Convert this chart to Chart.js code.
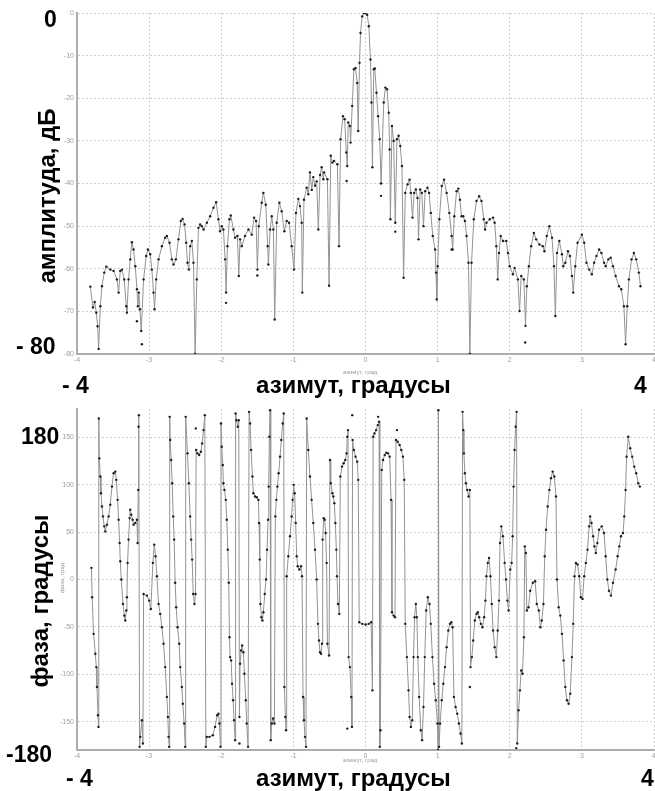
<!DOCTYPE html>
<html>
<head>
<meta charset="utf-8">
<script src="https://cdn.jsdelivr.net/npm/chart.js@4.4.1/dist/chart.umd.min.js"></script>
<style>
html, body { margin: 0; padding: 0; background: #fff; overflow: hidden; width: 655px; height: 791px; }
.box { position: absolute; left: 0; }
.big { position: absolute; font-family: "Liberation Sans", Arial, sans-serif; font-weight: bold; font-size: 23px; line-height: 1; color: #000; white-space: nowrap; }
.title { font-size: 24px; }
.rot { transform: translate(-50%, -50%) rotate(-90deg); }
.small { position: absolute; font-family: "Liberation Sans", Arial, sans-serif; font-size: 6px; line-height: 1; color: #999; white-space: nowrap; }
</style>
</head>
<body>

<div class="box" style="top:0;width:680px;height:390px"><canvas id="ampChart" width="680" height="390"></canvas></div>
<div class="box" style="top:390px;width:680px;height:401px"><canvas id="phaseChart" width="680" height="401"></canvas></div>

<div class="big" style="left:44px;top:8px">0</div>
<div class="big" style="left:16px;top:335px">- 80</div>
<div class="big" style="left:62px;top:374px">- 4</div>
<div class="big title" style="left:256px;top:373px">азимут, градусы</div>
<div class="big" style="left:634px;top:374px">4</div>
<div class="big title rot" style="left:47px;top:196px">амплитуда, дБ</div>
<div class="small" style="left:343px;top:369px">азимут, град</div>

<div class="big" style="left:21px;top:425px">180</div>
<div class="big" style="left:6px;top:743px">-180</div>
<div class="big" style="left:66px;top:767px">- 4</div>
<div class="big title" style="left:256px;top:766px">азимут, градусы</div>
<div class="big" style="left:641px;top:767px">4</div>
<div class="big title rot" style="left:40px;top:601px">фаза, градусы</div>
<div class="small rot" style="left:62px;top:578px">фаза, град</div>
<div class="small" style="left:343px;top:757px">азимут, град</div>

<script>
// tick values
const xTicks = [-4, -3, -2, -1, 0, 1, 2, 3, 4]
const ampTicks = [0, -10, -20, -30, -40, -50, -60, -70, -80]
const phaseTicks = [150, 100, 50, 0, -50, -100, -150]

// amplitude, dB vs azimuth, deg
const azAmp = [
  -3.815,-3.778,-3.755,-3.732,-3.714,-3.700,-3.677,-3.654,-3.622,-3.594,
  -3.539,-3.492,-3.446,-3.423,-3.400,-3.377,-3.345,-3.317,-3.308,-3.285,
  -3.262,-3.239,-3.216,-3.192,-3.169,-3.156,-3.142,-3.128,-3.109,-3.077,
  -3.040,-3.017,-2.985,-2.962,-2.939,-2.925,-2.902,-2.869,-2.823,-2.777,
  -2.754,-2.717,-2.685,-2.662,-2.629,-2.593,-2.560,-2.537,-2.509,-2.486,
  -2.468,-2.449,-2.431,-2.408,-2.385,-2.362,-2.339,-2.316,-2.293,-2.270,
  -2.246,-2.200,-2.154,-2.108,-2.071,-2.039,-2.016,-1.993,-1.970,-1.946,
  -1.933,-1.914,-1.886,-1.868,-1.831,-1.808,-1.776,-1.757,-1.739,-1.716,
  -1.670,-1.623,-1.577,-1.545,-1.517,-1.499,-1.480,-1.439,-1.416,-1.383,
  -1.356,-1.347,-1.323,-1.300,-1.277,-1.259,-1.231,-1.194,-1.162,-1.125,
  -1.093,-1.060,-1.024,-0.991,-0.964,-0.931,-0.908,-0.885,-0.876,-0.853,
  -0.816,-0.793,-0.770,-0.745,-0.724,-0.700,-0.677,-0.654,-0.630,-0.608,
  -0.585,-0.574,-0.528,-0.505,-0.482,-0.459,-0.436,-0.390,-0.367,-0.345,
  -0.312,-0.289,-0.266,-0.253,-0.239,-0.216,-0.207,-0.184,-0.161,-0.138,
  -0.115,-0.101,-0.083,-0.069,-0.046,-0.023,0,0.023,0.046,0.069,
  0.083,0.096,0.115,0.129,0.152,0.175,0.197,0.216,0.253,0.276,
  0.299,0.322,0.335,0.345,0.367,0.390,0.413,0.436,0.459,0.482,
  0.505,0.528,0.551,0.583,0.611,0.629,0.652,0.675,0.698,0.721,
  0.735,0.758,0.781,0.804,0.827,0.859,0.882,0.905,0.933,0.965,
  0.978,0.988,1.001,1.024,1.057,1.089,1.125,1.162,1.194,1.208,
  1.231,1.263,1.286,1.309,1.332,1.355,1.378,1.401,1.428,1.447,
  1.470,1.502,1.539,1.576,1.608,1.640,1.658,1.677,1.723,1.769,
  1.791,1.814,1.833,1.851,1.874,1.906,1.952,1.975,1.998,2.044,
  2.067,2.113,2.136,2.159,2.196,2.218,2.237,2.265,2.297,2.334,
  2.366,2.412,2.458,2.481,2.513,2.549,2.586,2.613,2.632,2.655,
  2.687,2.724,2.742,2.770,2.807,2.834,2.862,2.880,2.908,2.940,
  3.000,3.032,3.064,3.101,3.138,3.170,3.202,3.239,3.271,3.308,
  3.330,3.367,3.399,3.431,3.468,3.514,3.546,3.583,3.606,3.629,
  3.652,3.689,3.721,3.753,3.790,3.813
]
const ampDb = [
  -64.2,-69.1,-67.8,-70.3,-73.5,-78.8,-68.8,-64.1,-60.9,-59.5,
  -60.2,-60.5,-62.5,-65.6,-60.5,-60.2,-62.5,-68.8,-70.3,-62.5,
  -57.8,-53.8,-55.5,-59.4,-64.8,-68.8,-65.6,-69.5,-74.6,-62.5,
  -57.0,-55.5,-56.6,-60.2,-65.6,-69.5,-62.5,-57.8,-54.7,-52.7,
  -52.3,-53.9,-57.8,-59.0,-57.8,-53.1,-48.8,-48.3,-49.6,-53.9,
  -58.6,-60.2,-54.7,-53.5,-58.6,-80.0,-62.5,-50.4,-49.6,-50.0,
  -50.8,-49.2,-47.7,-45.7,-44.4,-48.4,-51.2,-50.0,-50.8,-57.8,
  -65.6,-54.7,-48.4,-47.5,-50.8,-52.7,-52.3,-61.7,-53.1,-54.7,
  -52.3,-50.8,-52.0,-48.0,-48.8,-60.2,-50.0,-44.5,-42.2,-45.0,
  -54.7,-59.0,-50.8,-47.7,-50.8,-71.9,-49.2,-44.5,-46.5,-51.2,
  -48.8,-49.2,-54.7,-60.2,-46.9,-43.6,-45.3,-49.2,-65.6,-43.8,
  -41.0,-42.5,-37.4,-41.5,-38.5,-40.5,-39.5,-50.8,-38.0,-36.2,
  -39.0,-37.4,-39.0,-64.0,-33.5,-35.1,-34.7,-35.5,-54.7,-29.6,
  -24.2,-24.9,-32.7,-35.9,-25.7,-26.5,-30.4,-21.8,-13.2,-12.9,
  -16.4,-27.7,-11.7,-4.7,-0.8,0,0,-0.4,-3.1,-10.9,
  -21.0,-36.2,-13.2,-13.0,-18.7,-24.2,-29.6,-40.0,-21.0,-17.5,
  -17.9,-23.4,-32.0,-48.4,-26.5,-30.0,-49.2,-29.6,-28.8,-31.2,
  -35.9,-62.1,-42.2,-40.2,-39.1,-42.2,-48.0,-42.2,-41.4,-43.4,
  -53.1,-41.4,-42.2,-50.0,-41.8,-41.0,-42.2,-46.9,-52.3,-55.5,
  -60.9,-67.2,-59.4,-48.4,-40.6,-39.1,-42.2,-46.9,-52.3,-55.5,
  -47.7,-41.8,-41.2,-43.8,-47.7,-47.7,-48.8,-52.3,-58.6,-80.0,
  -58.6,-48.4,-44.1,-43.0,-44.1,-48.4,-50.8,-49.2,-48.4,-48.0,
  -49.2,-54.7,-62.5,-56.3,-52.3,-53.5,-53.5,-56.3,-59.4,-61.3,
  -59.8,-62.5,-69.9,-61.7,-62.5,-73.4,-64.1,-59.4,-54.7,-51.6,
  -53.1,-54.3,-54.7,-55.9,-52.3,-50.0,-52.7,-59.4,-71.1,-56.3,
  -53.5,-56.6,-59.4,-58.6,-55.9,-57.0,-61.7,-65.6,-59.4,-53.9,
  -52.0,-53.9,-58.6,-60.2,-61.3,-58.6,-57.0,-55.5,-56.3,-58.6,
  -59.4,-57.8,-57.4,-59.4,-61.7,-64.1,-64.8,-68.8,-77.7,-68.8,
  -62.5,-57.8,-56.3,-57.8,-60.9,-64.1
]
// stray amplitude samples off the curve
const azAmpStray = [-3.169, -3.100, -1.933, -1.499, -0.262, 0.216, 0.413, 1.194, 2.214]
const ampDbStray = [-72.3, -77.7, -68.0, -61.6, -39.4, -42.9, -51.3, -55.5, -77.3]

// phase, deg vs azimuth, deg
const azPhase = [
  -3.800,-3.790,-3.770,-3.746,-3.732,-3.723,-3.709,-3.702,-3.698,-3.691,
  -3.677,-3.668,-3.654,-3.640,-3.622,-3.608,-3.585,-3.562,-3.539,-3.515,
  -3.492,-3.469,-3.455,-3.437,-3.423,-3.409,-3.400,-3.386,-3.363,-3.345,
  -3.331,-3.317,-3.308,-3.299,-3.285,-3.271,-3.262,-3.248,-3.229,-3.216,
  -3.192,-3.169,-3.160,-3.151,-3.146,-3.142,-3.132,-3.123,-3.100,-3.086,
  -3.077,-3.031,-2.999,-2.976,-2.948,-2.929,-2.911,-2.892,-2.869,-2.846,
  -2.823,-2.800,-2.777,-2.754,-2.740,-2.731,-2.722,-2.715,-2.708,-2.694,
  -2.680,-2.666,-2.653,-2.639,-2.625,-2.606,-2.583,-2.569,-2.546,-2.533,
  -2.514,-2.500,-2.493,-2.468,-2.449,-2.431,-2.417,-2.403,-2.389,-2.371,
  -2.357,-2.348,-2.330,-2.306,-2.283,-2.265,-2.246,-2.228,-2.214,-2.200,
  -2.163,-2.117,-2.085,-2.057,-2.039,-2.025,-2.011,-2.004,-1.993,-1.979,
  -1.970,-1.956,-1.937,-1.923,-1.909,-1.896,-1.886,-1.877,-1.863,-1.850,
  -1.836,-1.822,-1.808,-1.801,-1.790,-1.771,-1.757,-1.748,-1.739,-1.725,
  -1.711,-1.693,-1.679,-1.660,-1.647,-1.628,-1.614,-1.600,-1.586,-1.568,
  -1.554,-1.531,-1.508,-1.485,-1.476,-1.466,-1.457,-1.443,-1.429,-1.416,
  -1.397,-1.379,-1.365,-1.351,-1.342,-1.333,-1.323,-1.314,-1.300,-1.282,
  -1.263,-1.250,-1.236,-1.222,-1.204,-1.185,-1.167,-1.148,-1.134,-1.125,
  -1.111,-1.102,-1.093,-1.070,-1.047,-1.024,-1.010,-0.996,-0.982,-0.968,
  -0.954,-0.940,-0.917,-0.894,-0.880,-0.866,-0.853,-0.839,-0.825,-0.816,
  -0.793,-0.770,-0.747,-0.724,-0.700,-0.677,-0.659,-0.645,-0.631,-0.617,
  -0.603,-0.594,-0.580,-0.566,-0.553,-0.539,-0.528,-0.505,-0.492,-0.482,
  -0.459,-0.446,-0.432,-0.418,-0.404,-0.395,-0.381,-0.363,-0.349,-0.326,
  -0.303,-0.280,-0.262,-0.253,-0.243,-0.234,-0.216,-0.198,-0.188,-0.179,
  -0.161,-0.138,-0.115,-0.101,-0.087,-0.046,0,0.046,0.078,0.096,
  0.106,0.124,0.147,0.170,0.188,0.198,0.207,0.225,0.243,0.266,
  0.289,0.312,0.335,0.354,0.367,0.390,0.409,0.423,0.446,0.473,
  0.496,0.519,0.537,0.551,0.574,0.597,0.611,0.629,0.648,0.666,
  0.680,0.698,0.712,0.726,0.744,0.767,0.785,0.804,0.822,0.841,
  0.864,0.887,0.905,0.928,0.951,0.974,0.997,1.006,1.011,1.020,
  1.034,1.057,1.079,1.102,1.125,1.148,1.171,1.190,1.208,1.226,
  1.249,1.272,1.295,1.318,1.336,1.346,1.355,1.364,1.378,1.392,
  1.410,1.429,1.447,1.456,1.475,1.493,1.516,1.539,1.557,1.576,
  1.599,1.622,1.644,1.663,1.677,1.695,1.713,1.732,1.750,1.769,
  1.791,1.814,1.833,1.851,1.865,1.883,1.906,1.929,1.948,1.967,
  1.984,2.007,2.026,2.040,2.053,2.067,2.081,2.095,2.104,2.122,
  2.141,2.159,2.177,2.196,2.209,2.223,2.237,2.260,2.283,2.320,
  2.352,2.375,2.403,2.425,2.444,2.467,2.485,2.503,2.526,2.549,
  2.572,2.595,2.618,2.641,2.655,2.678,2.701,2.724,2.747,2.770,
  2.793,2.816,2.839,2.862,2.880,2.898,2.917,2.940,2.963,2.986,
  3.009,3.032,3.055,3.078,3.101,3.115,3.133,3.156,3.174,3.193,
  3.215,3.238,3.275,3.307,3.330,3.353,3.376,3.404,3.431,3.468,
  3.496,3.519,3.542,3.570,3.588,3.606,3.620,3.643,3.670,3.698,
  3.726,3.753,3.781,3.804
]
const phaseDeg = [
  12.3,-18.8,-57.4,-78.4,-92.5,-113.5,-143.3,-155.6,170.0,127.9,
  108.7,91.1,77.1,66.6,56.1,50.8,57.8,66.6,78.9,98.1,
  112.2,113.9,105.2,84.1,63.1,38.6,19.3,0,-25.8,-38.1,
  -43.3,-32.8,-18.8,17.5,42.1,64.8,73.6,68.3,63.1,57.8,
  59.6,63.1,38.6,94.6,161.2,173.5,-176.7,-166.1,-148.6,-173.2,
  -15.3,-17.0,-22.3,-31.1,17.5,36.8,24.5,3.5,-25.8,-36.3,
  -50.4,-67.9,-92.5,-124.0,-145.1,-166.1,-176.7,171.7,147.2,126.2,
  101.6,66.6,42.1,-3.5,-29.3,-50.4,-67.9,-92.5,-113.5,-131.1,
  -152.1,-176.7,171.7,133.2,101.6,66.6,42.1,21.0,-15.3,-25.8,
  -15.3,136.7,133.2,131.4,134.9,143.7,157.7,173.5,-176.7,-166.1,
  -166.1,-164.4,-155.6,-143.3,-141.6,-152.1,-176.7,164.7,140.2,120.9,
  101.6,94.6,84.1,63.1,31.5,-3.5,-60.9,-81.9,-85.4,-110.0,
  -127.5,-148.6,-169.6,175.3,168.2,161.2,168.2,-145.1,-88.9,-74.9,
  -69.6,-76.7,-99.5,-127.5,-152.1,-176.7,177.0,164.7,136.7,108.7,
  91.1,87.6,86.9,84.1,59.6,21.0,-25.8,-39.8,-43.3,-34.6,
  -15.3,0,31.5,63.1,98.1,150.7,178.8,-169.6,-152.1,-146.8,
  -152.1,66.6,84.1,98.1,112.2,129.7,147.2,164.7,175.3,-113.5,
  -145.1,-159.1,3.5,24.5,45.6,66.6,84.1,99.9,91.1,59.6,
  24.5,14.0,10.5,14.0,3.5,-124.0,-148.6,-166.1,-176.7,170.0,
  136.7,108.7,84.1,59.6,31.5,0,-46.8,-64.4,-76.7,-78.4,
  -67.9,42.1,64.8,63.1,49.1,17.5,-67.9,-80.2,126.2,101.6,
  91.1,87.6,80.6,59.6,31.5,3.5,-25.8,-36.3,108.7,119.2,
  122.7,126.2,133.2,150.7,157.7,-81.9,-92.5,-124.0,-155.6,147.2,
  136.7,129.7,124.4,105.2,-45.1,-46.8,-47.5,-46.8,-45.1,-117.0,
  150.7,154.2,157.7,163.0,166.5,-176.7,-159.1,115.7,126.2,131.4,
  133.9,133.2,129.7,84.1,-34.6,-38.1,-39.8,147.2,145.5,142.0,
  136.7,129.7,105.2,-46.8,-81.9,-117.0,-145.1,-155.6,-148.6,-81.9,
  -39.8,-25.8,-39.8,-81.9,-124.0,-159.1,-169.6,-134.6,-81.9,-32.8,
  -18.8,-25.8,-46.8,-81.9,-110.0,-127.5,-152.1,-180.0,178.8,-176.7,
  -152.1,-127.5,-110.0,-92.5,-71.4,-53.9,-46.8,-45.1,-50.4,-124.0,
  -134.6,-141.6,-152.1,-162.6,-173.2,177.0,157.7,133.2,112.2,101.6,
  94.6,87.6,94.6,-92.5,-81.9,-64.4,-43.3,-36.3,-34.6,-39.8,
  -46.8,-50.4,-39.8,-22.3,3.5,17.5,22.8,3.5,-25.8,-53.9,
  -71.4,-81.9,-53.9,-22.3,38.6,56.1,45.6,17.5,0,-22.3,
  -32.8,10.5,17.5,45.6,98.1,136.7,161.2,177.0,-173.2,-138.1,
  -117.0,-96.0,-99.5,-60.9,35.0,28.0,-32.8,-29.3,-11.8,-3.5,
  -1.8,-25.8,-32.8,-50.4,-43.3,-25.8,24.5,52.6,77.1,94.6,
  106.9,113.9,108.7,87.6,0,-29.3,-38.1,-57.4,-85.4,-113.5,
  -127.5,-131.1,-120.5,-81.9,-46.8,3.5,17.5,15.8,3.5,-18.8,
  -20.5,3.5,17.5,31.5,56.1,66.6,59.6,45.6,35.0,28.0,
  38.6,52.6,56.1,49.1,24.5,0,-11.8,-17.0,-3.5,10.5,
  24.5,35.0,45.6,49.1,66.6,94.6,129.7,150.7,138.5,129.7,
  119.2,112.2,101.6,98.1
]
// stray phase samples off the curve
const azPhaseStray = [-2.353, -1.748, -0.184, 0.175, 0.436, -0.253, 1.447, 2.090]
const phaseDegStray = [159.5, -173.2, 173.5, 171.7, 157.7, -157.4, -113.5, -178.0]

function toPoints(xs, ys) {
  return xs.map((x, i) => ({ x: x, y: ys[i] }))
}

function axisStyle() {
  return {
    grid: { color: "#cdcdcd", lineWidth: 1, drawTicks: false },
    border: { color: "#adadad", width: 2, dash: [2, 2] }
  }
}

function makeChart(id, xs, ys, sx, sy, yMin, yMax, yTicks, padTop, xAxisH) {

  const ctx = document.getElementById(id)

  new Chart(ctx, {
    type: "line",
    data: {
      datasets: [{
        data: toPoints(xs, ys),
        borderColor: "#939393",
        borderWidth: 1,
        pointRadius: 1.2,
        pointBackgroundColor: "#1e1e1e",
        pointBorderWidth: 0,
        tension: 0
      }, {
        data: toPoints(sx, sy),
        showLine: false,
        pointRadius: 1.2,
        pointBackgroundColor: "#1e1e1e",
        pointBorderWidth: 0
      }]
    },
    options: {
      responsive: false,
      devicePixelRatio: 1,
      animation: false,
      layout: { padding: { top: padTop, left: 0, right: 26, bottom: 0 } },
      plugins: { legend: { display: false }, tooltip: { enabled: false } },
      scales: {
        x: {
          type: "linear",
          min: -4,
          max: 4,
          afterBuildTicks: s => { s.ticks = xTicks.map(v => ({ value: v })) },
          afterFit: s => { s.height = xAxisH },
          ticks: { font: { size: 7 }, color: "#a0a0a0", padding: 2, maxRotation: 0, autoSkip: false },
          ...axisStyle()
        },
        y: {
          min: yMin,
          max: yMax,
          afterBuildTicks: s => { s.ticks = yTicks.map(v => ({ value: v })) },
          afterFit: s => { s.width = 77 },
          ticks: { font: { size: 7 }, color: "#a0a0a0", padding: 3 },
          ...axisStyle()
        }
      }
    }
  })

}

makeChart("ampChart", azAmp, ampDb, azAmpStray, ampDbStray, -80, 0, ampTicks, 13, 36)
makeChart("phaseChart", azPhase, phaseDeg, azPhaseStray, phaseDegStray, -180, 180, phaseTicks, 19, 41)
</script>
</body>
</html>
